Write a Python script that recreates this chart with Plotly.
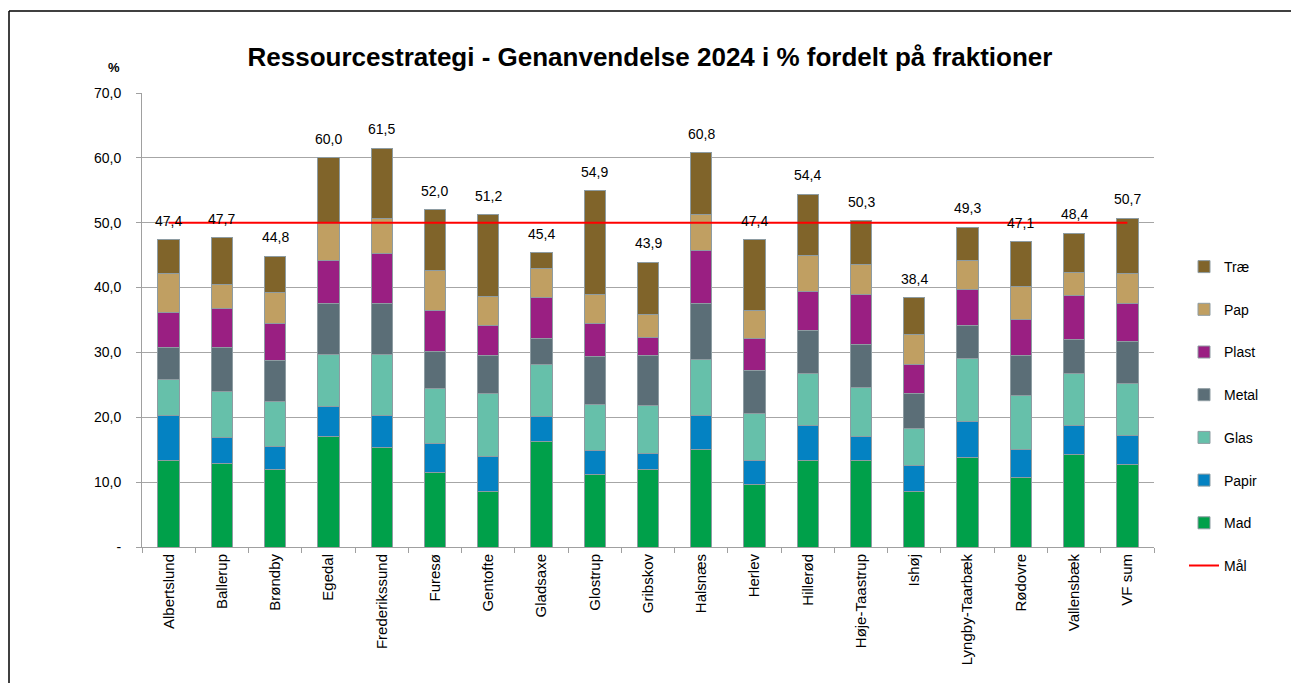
import plotly.graph_objects as go

kommuner = ["Albertslund", "Ballerup", "Brøndby", "Egedal", "Frederikssund", "Furesø",
            "Gentofte", "Gladsaxe", "Glostrup", "Gribskov", "Halsnæs", "Herlev",
            "Hillerød", "Høje-Taastrup", "Ishøj", "Lyngby-Taarbæk", "Rødovre",
            "Vallensbæk", "VF sum"]

mad   = [13.3, 12.9, 12.0, 17.1, 15.3, 11.5, 8.6, 16.3, 11.25, 12.0, 15.1, 9.7, 13.4, 13.4, 8.5, 13.8, 10.7, 14.2, 12.75]
papir = [6.9, 4.0, 3.5, 4.5, 4.9, 4.5, 5.3, 3.8, 3.6, 2.4, 5.2, 3.7, 5.3, 3.6, 4.0, 5.6, 4.3, 4.5, 4.4]
glas  = [5.55, 7.1, 7.0, 8.15, 9.45, 8.4, 9.7, 8.0, 7.05, 7.4, 8.6, 7.2, 8.0, 7.6, 5.7, 9.6, 8.3, 8.1, 8.05]
metal = [4.95, 6.8, 6.3, 7.85, 7.85, 5.8, 6.0, 4.1, 7.4, 7.75, 8.6, 6.6, 6.7, 6.65, 5.4, 5.2, 6.25, 5.2, 6.45]
plast = [5.5, 6.05, 5.6, 6.6, 7.8, 6.3, 4.5, 6.2, 5.2, 2.75, 8.2, 5.0, 6.0, 7.65, 4.6, 5.5, 5.5, 6.8, 5.85]
pap   = [5.9, 3.7, 4.9, 5.7, 5.4, 6.1, 4.6, 4.6, 4.5, 3.5, 5.6, 4.2, 5.5, 4.7, 4.5, 4.5, 5.15, 3.6, 4.7]
trae  = [5.3, 7.15, 5.5, 10.1, 10.8, 9.4, 12.5, 2.4, 15.9, 8.1, 9.5, 11.0, 9.5, 6.7, 5.7, 5.1, 6.9, 6.0, 8.5]
totaler = [47.4, 47.7, 44.8, 60.0, 61.5, 52.0, 51.2, 45.4, 54.9, 43.9, 60.8, 47.4, 54.4, 50.3, 38.4, 49.3, 47.1, 48.4, 50.7]
maal = [50.0] * len(kommuner)

ytick_vals = [0, 10, 20, 30, 40, 50, 60, 70]
ytick_text = ["-", "10,0", "20,0", "30,0", "40,0", "50,0", "60,0", "70,0"]

serier = [
    ("Mad", mad, "#00A04A"),
    ("Papir", papir, "#0482C2"),
    ("Glas", glas, "#66C0AA"),
    ("Metal", metal, "#5B6E77"),
    ("Plast", plast, "#9A1F82"),
    ("Pap", pap, "#C09F62"),
    ("Træ", trae, "#80642A"),
]

fig = go.Figure()
for i, (navn, vals, farve) in enumerate(serier):
    fig.add_trace(go.Bar(
        x=kommuner, y=vals, name=navn,
        marker=dict(color=farve, line=dict(color="#8E9CA2", width=1)),
        legendgroup=navn, legendrank=7 - i,
        hoverinfo="y+name",
    ))

fig.add_trace(go.Scatter(
    x=kommuner, y=maal, name="Mål", mode="lines",
    line=dict(color="#FF0000", width=2),
    legendgroup="Mål", legendrank=8,
))

for k, t in zip(kommuner, totaler):
    fig.add_annotation(x=k, y=t, text=f"{t:.1f}".replace(".", ","),
                       showarrow=False, yanchor="bottom", yshift=9,
                       font=dict(family="Arial, Liberation Sans", size=14, color="#000000"))

fig.add_annotation(text="<b>%</b>", xref="paper", yref="paper",
                   x=(114 - 142) / 1012, y=(547 - 68) / 454, showarrow=False,
                   xanchor="center", yanchor="middle",
                   font=dict(family="Arial, Liberation Sans", size=13, color="#000000"))

fx0 = (9 - 142) / 1012
fx1 = (1297.5 - 142) / 1012
fy1 = (547 - 11) / 454
fig.add_shape(type="line", xref="paper", yref="paper", x0=fx0, x1=fx1, y0=fy1, y1=fy1,
              line=dict(color="#000000", width=1.5))
fig.add_shape(type="line", xref="paper", yref="paper", x0=fx0, x1=fx0, y0=fy1, y1=-0.35,
              line=dict(color="#000000", width=1.5))
fig.add_shape(type="line", xref="paper", yref="paper", x0=fx1, x1=fx1, y0=fy1, y1=-0.35,
              line=dict(color="#909090", width=1.5))

fig.update_layout(
    width=1299, height=683,
    margin=dict(l=134, r=153, t=85, b=144),
    paper_bgcolor="white", plot_bgcolor="white",
    barmode="stack", bargap=0.6,
    title=dict(text="<b>Ressourcestrategi - Genanvendelse 2024 i % fordelt på fraktioner</b>",
               x=(650 - 142) / 1012, xref="paper", xanchor="center", y=1 - 49 / 683, yanchor="middle",
               font=dict(family="Arial, Liberation Sans", size=26, color="#000000")),
    font=dict(family="Arial, Liberation Sans", size=14, color="#000000"),
    legend=dict(x=(1184 - 142) / 1012, y=(547 - 251) / 454, xanchor="left", yanchor="top",
                traceorder="grouped", tracegroupgap=21.5,
                font=dict(size=14), bgcolor="rgba(0,0,0,0)"),
    showlegend=True,
)

fig.update_yaxes(range=[0, 70], tickvals=ytick_vals, ticktext=ytick_text,
                 showgrid=True, gridcolor="#A6A6A6", gridwidth=1,
                 showline=True, linecolor="#A0A0A0", linewidth=1,
                 ticks="outside", ticklen=5, tickcolor="#A0A0A0",
                 ticklabelstandoff=12,
                 tickfont=dict(size=14), zeroline=False)
fig.update_xaxes(showline=True, linecolor="#A0A0A0", linewidth=1,
                 ticks="outside", ticklen=5, tickcolor="#A0A0A0", tickson="boundaries",
                 tickangle=-90, tickfont=dict(size=15), showgrid=False)

fig.write_html("out.html")
